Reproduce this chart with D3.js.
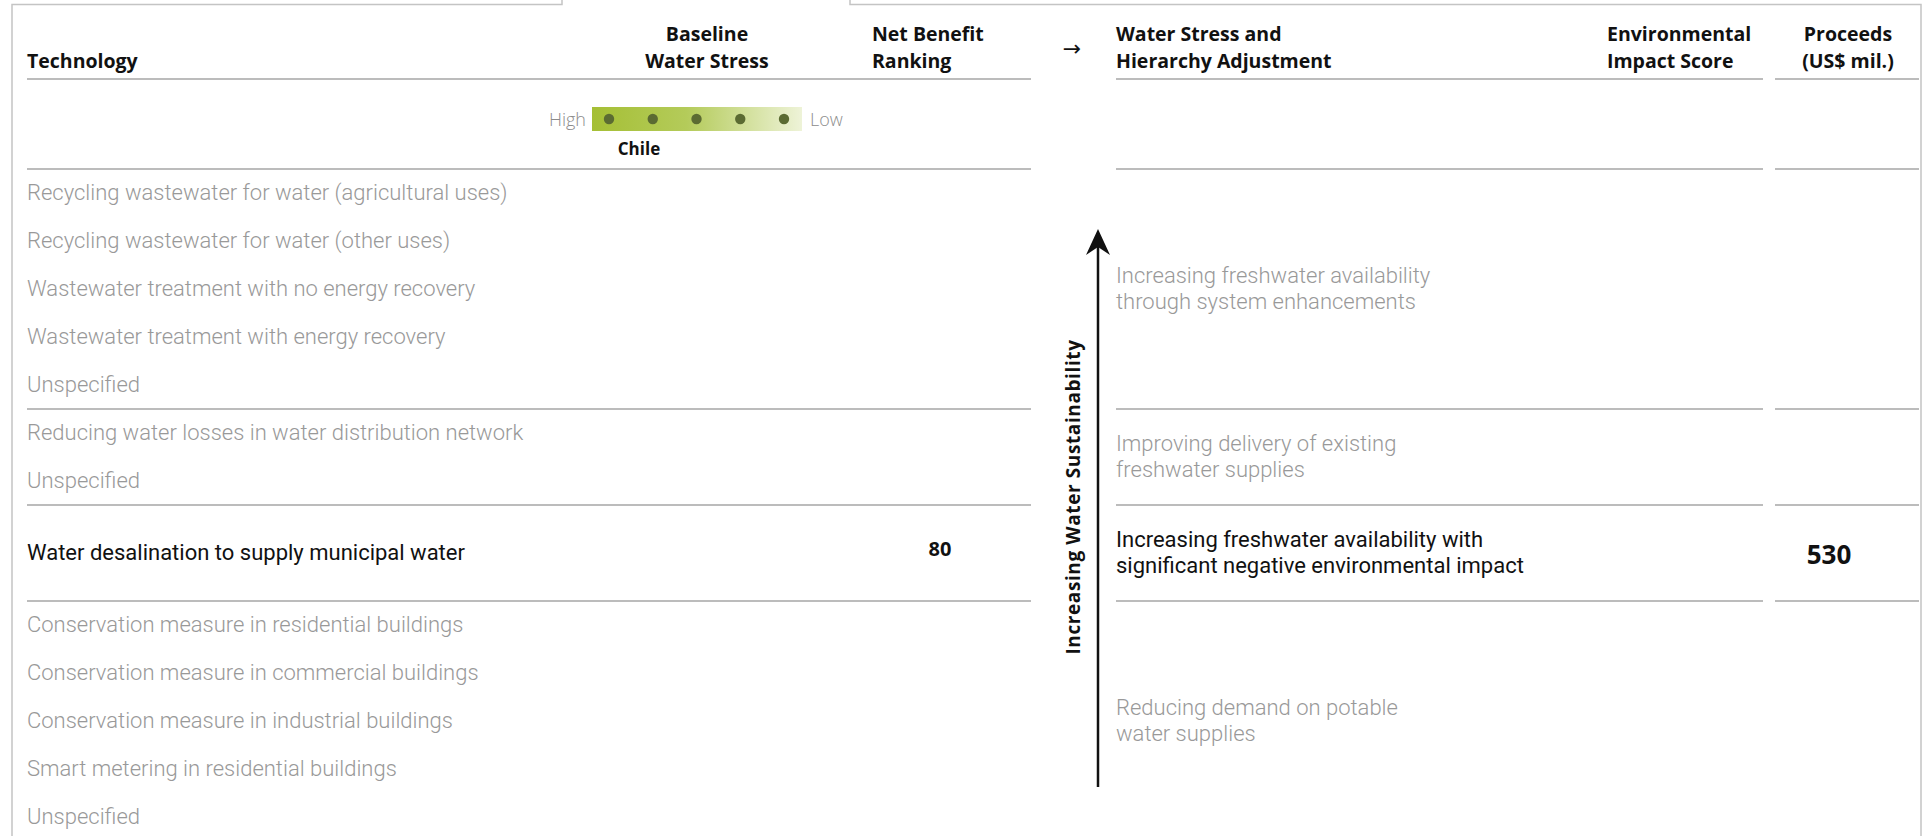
<!DOCTYPE html>
<html>
<head>
<meta charset="utf-8">
<script src="https://cdn.jsdelivr.net/npm/d3@7"></script>
<style>
  body { margin: 0; background: #fff; }
  svg { display: block; font-family: "Open Sans", Roboto, sans-serif; }
  .head { font-weight: 700; font-size: 19.5px; fill: #111; }
  .row { font-family: Roboto, sans-serif; font-size: 22px; font-weight: 300; fill: #999; }
  .row.on { fill: #111; font-weight: 400; }
  .rule { stroke: #bcbcbc; stroke-width: 2; }
</style>
</head>
<body>
<script>
// hierarchy categories (top = most sustainable)
var categories = [
  ["Increasing freshwater availability", "through system enhancements"],
  ["Improving delivery of existing", "freshwater supplies"],
  ["Increasing freshwater availability with", "significant negative environmental impact"],
  ["Reducing demand on potable", "water supplies"]
];
// technologies and the category they belong to
var technologies = [
  "Recycling wastewater for water (agricultural uses)",
  "Recycling wastewater for water (other uses)",
  "Wastewater treatment with no energy recovery",
  "Wastewater treatment with energy recovery",
  "Unspecified",
  "Reducing water losses in water distribution network",
  "Unspecified",
  "Water desalination to supply municipal water",
  "Conservation measure in residential buildings",
  "Conservation measure in commercial buildings",
  "Conservation measure in industrial buildings",
  "Smart metering in residential buildings",
  "Unspecified"
];
var techCategory = [0, 0, 0, 0, 0, 1, 1, 2, 3, 3, 3, 3, 3];
var netBenefit = [null, null, null, null, null, null, null, 80, null, null, null, null, null];
var proceeds = [null, null, 530, null];
var activeCategory = 2;
var stressLevels = [1, 2, 3, 4, 5];
var country = "Chile";

var width = 1925, height = 836;

var svg = d3.select("body").append("svg")
    .attr("width", width)
    .attr("height", height);

// frame with tab at top
svg.append("path")
    .attr("d", "M12,836 L12,4.5 L562,4.5 L562,0 M850,0 L850,4.5 L1921,4.5 L1921,836")
    .attr("fill", "none")
    .attr("stroke", "#c4c4c4")
    .attr("stroke-width", 1.5);

// slots: each group takes at least two row slots
var groupSlots = categories.map(function(c, i) {
  var n = techCategory.filter(function(g) { return g === i; }).length;
  return Math.max(n, 2);
});
var groupStart = [];
var acc = 0;
groupSlots.forEach(function(s) { groupStart.push(acc); acc += s; });

var y = d3.scaleLinear().domain([0, 1]).range([169, 217]);

// position of each technology row (slot centre)
var rowPos = technologies.map(function(t, i) {
  var g = techCategory[i];
  var members = techCategory.map(function(v, j) { return v === g ? j : -1; }).filter(function(j) { return j >= 0; });
  var k = members.indexOf(i);
  if (members.length < groupSlots[g]) return groupStart[g] + groupSlots[g] / 2;
  return groupStart[g] + k + 0.5;
});

// header
var headers = [
  {lines: ["Technology"], x: 27, anchor: "start"},
  {lines: ["Baseline", "Water Stress"], x: 707, anchor: "middle"},
  {lines: ["Net Benefit", "Ranking"], x: 872, anchor: "start"},
  {lines: ["Water Stress and", "Hierarchy Adjustment"], x: 1116, anchor: "start"},
  {lines: ["Environmental", "Impact Score"], x: 1607, anchor: "start"},
  {lines: ["Proceeds", "(US$ mil.)"], x: 1848, anchor: "middle"}
];
headers.forEach(function(h) {
  var t = svg.append("text").attr("class", "head").attr("text-anchor", h.anchor);
  var base = 68 - (h.lines.length - 1) * 27;
  h.lines.forEach(function(l, i) {
    t.append("tspan").attr("x", h.x).attr("y", base + i * 27).text(l);
  });
});
svg.append("text")
    .attr("x", 1072).attr("y", 56).attr("text-anchor", "middle")
    .attr("font-family", "'DejaVu Sans', sans-serif")
    .attr("font-size", 22).attr("fill", "#111").text("\u2192");

// horizontal rules
var segments = [[27, 1031], [1116, 1763], [1775, 1919]];
var ruleYs = [79, y(0)].concat(groupStart.slice(1).map(function(s) { return y(s); }));
ruleYs.forEach(function(ry) {
  segments.forEach(function(seg, si) {
    svg.append("line").attr("class", "rule")
        .attr("x1", seg[0]).attr("x2", seg[1])
        .attr("y1", ry).attr("y2", ry);
  });
});

// water stress legend
var defs = svg.append("defs");
var grad = defs.append("linearGradient").attr("id", "stress");
grad.append("stop").attr("offset", "0%").attr("stop-color", "#a5bf35");
grad.append("stop").attr("offset", "45%").attr("stop-color", "#b4cb5a");
grad.append("stop").attr("offset", "100%").attr("stop-color", "#eef3d8");

var sx = d3.scalePoint().domain(stressLevels).range([609, 784]);
svg.append("rect")
    .attr("x", 592).attr("y", 107).attr("width", 210).attr("height", 24)
    .attr("fill", "url(#stress)");
svg.selectAll(".dot").data(stressLevels).enter().append("circle")
    .attr("cx", function(d) { return sx(d); })
    .attr("cy", 119).attr("r", 5.2)
    .attr("fill", "#5b6b32");
svg.append("text").attr("x", 586).attr("y", 126).attr("text-anchor", "end")
    .attr("font-size", 18).attr("font-weight", 300).attr("fill", "#8c8c8c").text("High");
svg.append("text").attr("x", 810).attr("y", 126)
    .attr("font-size", 18).attr("font-weight", 300).attr("fill", "#8c8c8c").text("Low");
svg.append("text").attr("x", 639).attr("y", 155).attr("text-anchor", "middle")
    .attr("font-size", 17).attr("font-weight", 700).attr("fill", "#111").text(country);

// technology rows
svg.selectAll(".tech").data(technologies).enter().append("text")
    .attr("class", function(d, i) { return "row" + (techCategory[i] === activeCategory ? " on" : ""); })
    .attr("x", 27)
    .attr("y", function(d, i) { return y(rowPos[i]) + 7; })
    .text(function(d) { return d; });

// net benefit values
svg.selectAll(".nb").data(netBenefit.map(function(v, i) { return {v: v, i: i}; })
    .filter(function(d) { return d.v !== null; }))
  .enter().append("text")
    .attr("x", 940).attr("y", function(d) { return y(rowPos[d.i]) + 3; })
    .attr("text-anchor", "middle")
    .attr("font-size", 20).attr("font-weight", 700).attr("fill", "#111")
    .text(function(d) { return d.v; });

// category labels
categories.forEach(function(c, g) {
  var cy = y(groupStart[g] + groupSlots[g] / 2);
  c.forEach(function(l, i) {
    svg.append("text")
        .attr("class", "row" + (g === activeCategory ? " on" : ""))
        .attr("x", 1116).attr("y", cy - 13 + i * 26 + 7).text(l);
  });
  if (proceeds[g] !== null) {
    svg.append("text").attr("x", 1829).attr("y", cy + 11)
        .attr("text-anchor", "middle")
        .attr("font-size", 26).attr("font-weight", 700).attr("fill", "#111")
        .text(proceeds[g]);
  }
});

// sustainability arrow
svg.append("line")
    .attr("x1", 1098).attr("x2", 1098)
    .attr("y1", 787).attr("y2", 240)
    .attr("stroke", "#111").attr("stroke-width", 2.5);
svg.append("path")
    .attr("d", "M1098,229 L1110,255 L1098,247 L1086,255 Z")
    .attr("fill", "#111");
svg.append("text")
    .attr("transform", "translate(1080,497) rotate(-90)")
    .attr("text-anchor", "middle")
    .attr("font-size", 19).attr("font-weight", 700).attr("fill", "#111")
    .attr("letter-spacing", 0.6)
    .text("Increasing Water Sustainability");
</script>
</body>
</html>
